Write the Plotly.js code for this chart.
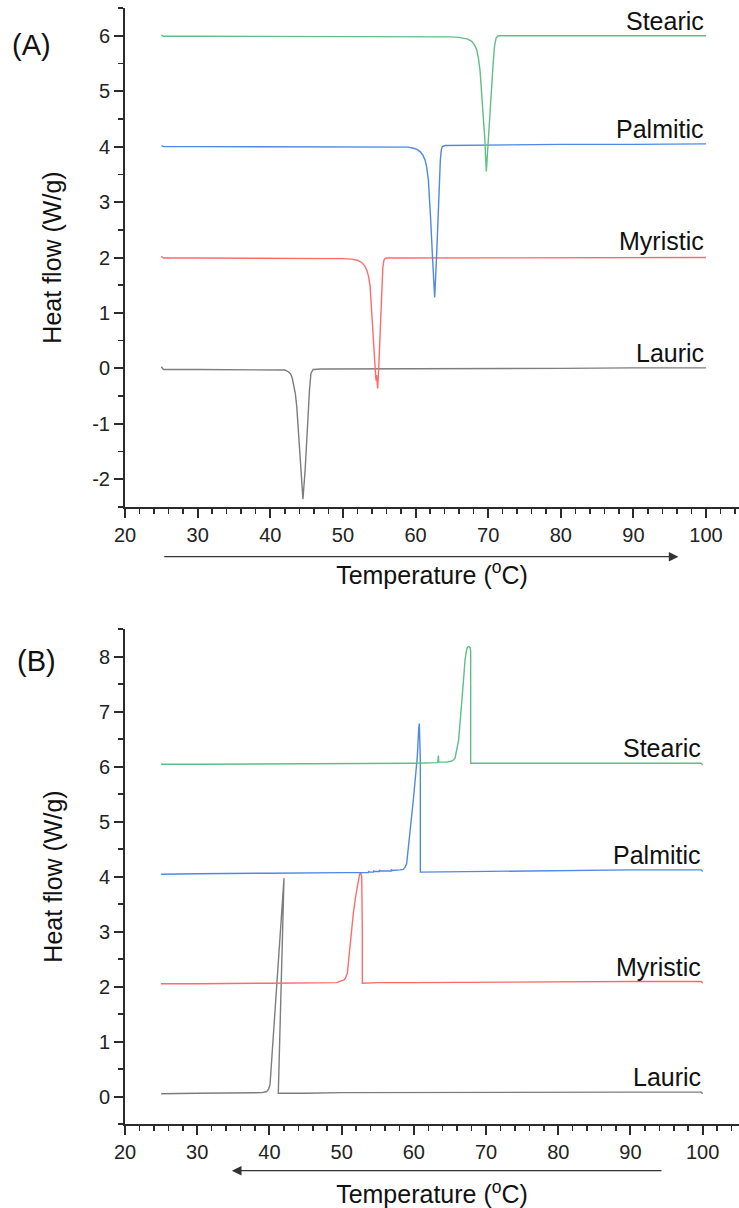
<!DOCTYPE html>
<html>
<head>
<meta charset="utf-8">
<script src="https://cdn.plot.ly/plotly-3.0.1.min.js"></script>
<style>
  html, body { margin: 0; padding: 0; background: #ffffff; }
  #chart { width: 739px; height: 1208px; }
</style>
</head>
<body>
<div id="chart"></div>
<script>
// ---------- Panel (A): heating scan (melting) ----------
const tA_lauric = [25, 25.3, 30, 35, 40, 41.5, 42.0, 42.5, 42.8, 43.0, 43.2, 43.45, 43.65, 43.95, 44.25, 44.5, 44.8, 45.1, 45.4, 45.6, 45.9, 47, 50, 60, 70, 80, 90, 100];
const hA_lauric = [0.03, -0.02, -0.02, -0.02, -0.02, -0.03, -0.03, -0.06, -0.1, -0.16, -0.27, -0.45, -0.69, -1.29, -1.9, -2.36, -1.84, -1.05, -0.39, -0.09, -0.02, -0.01, -0.01, 0.0, 0.0, 0.0, 0.01, 0.01];

const tA_myristic = [25, 25.3, 30, 40, 48, 50, 51.2, 52.0, 52.6, 53.0, 53.3, 53.55, 53.75, 53.9, 54.05, 54.24, 54.4, 54.52, 54.58, 54.64, 54.72, 54.79, 54.95, 55.11, 55.34, 55.5, 55.65, 55.8, 56.0, 60, 70, 80, 90, 100];
const hA_myristic = [2.02, 1.99, 1.99, 1.99, 1.98, 1.98, 1.97, 1.95, 1.91, 1.85, 1.77, 1.65, 1.48, 1.2, 0.8, 0.39, 0.1, -0.15, -0.22, -0.12, -0.28, -0.36, 0.05, 0.51, 1.41, 1.82, 1.95, 1.98, 1.99, 1.99, 1.99, 2.0, 2.0, 2.0];

const tA_palmitic = [25, 25.3, 30, 40, 50, 57, 59.0, 59.7, 60.2, 60.62, 61.0, 61.31, 61.55, 61.77, 61.95, 62.09, 62.36, 62.64, 62.92, 63.19, 63.42, 63.55, 63.7, 64.06, 70, 80, 90, 100];
const hA_palmitic = [4.02, 4.0, 4.0, 4.0, 4.0, 4.0, 3.99, 3.97, 3.95, 3.91, 3.85, 3.76, 3.62, 3.40, 3.05, 2.68, 1.95, 1.28, 2.08, 3.04, 3.76, 3.94, 4.0, 4.02, 4.03, 4.04, 4.04, 4.05];

const tA_stearic = [25, 25.3, 30, 40, 50, 60, 64.75, 66.0, 66.59, 67.2, 67.73, 68.1, 68.42, 68.65, 68.88, 69.25, 69.52, 69.75, 70.03, 70.35, 70.72, 70.9, 71.1, 71.41, 80, 90, 100];
const hA_stearic = [6.01, 5.99, 5.99, 5.99, 5.99, 5.99, 5.98, 5.97, 5.96, 5.94, 5.9, 5.84, 5.75, 5.6, 5.38, 4.78, 4.18, 3.55, 4.18, 4.9, 5.56, 5.83, 5.96, 6.0, 6.0, 6.0, 6.0];

// ---------- Panel (B): cooling scan (crystallisation), listed in scan order 100 -> 25 ----------
const tB_lauric = [100, 99.8, 90, 80, 70, 60, 50, 45, 42, 41.23, 42.02, 40.08, 39.9, 39.62, 39.0, 35, 30, 25];
const hB_lauric = [0.05, 0.08, 0.08, 0.08, 0.07, 0.07, 0.07, 0.06, 0.06, 0.06, 3.97, 0.21, 0.14, 0.09, 0.07, 0.06, 0.06, 0.05];

const tB_myristic = [100, 99.8, 90, 80, 70, 60, 55, 53.0, 52.87, 52.87, 52.84, 52.78, 52.68, 52.55, 52.4, 52.17, 51.9, 51.62, 51.16, 50.79, 50.55, 50.33, 49.31, 45, 40, 30, 25];
const hB_myristic = [2.06, 2.09, 2.09, 2.08, 2.08, 2.07, 2.07, 2.06, 2.06, 3.0, 3.8, 4.0, 4.06, 4.06, 3.98, 3.82, 3.6, 3.33, 2.67, 2.24, 2.16, 2.12, 2.07, 2.06, 2.06, 2.05, 2.05];

const tB_palmitic = [100, 99.8, 90, 80, 70, 65, 61.0, 60.9, 60.9, 60.82, 60.76, 60.68, 60.48, 59.93, 59.38, 59.01, 58.8, 58.55, 58.08, 57, 56.9, 56.85, 56, 55.3, 55.25, 55.2, 54.5, 54.45, 54.4, 53.8, 53.75, 53.7, 50, 45, 40, 30, 25];
const hB_palmitic = [4.09, 4.12, 4.12, 4.11, 4.10, 4.09, 4.08, 4.08, 6.1, 6.7, 6.78, 6.7, 6.18, 5.39, 4.67, 4.24, 4.17, 4.13, 4.12, 4.11, 4.13, 4.1, 4.1, 4.1, 4.12, 4.09, 4.09, 4.11, 4.08, 4.08, 4.1, 4.07, 4.07, 4.06, 4.06, 4.05, 4.04];

const tB_stearic = [100, 99.8, 90, 80, 70, 68.0, 67.87, 67.87, 67.8, 67.64, 67.45, 67.32, 67.2, 67.09, 66.85, 66.53, 66.35, 66.3, 66.21, 65.93, 65.70, 65.4, 65.01, 64.5, 63.45, 63.4, 63.35, 63.3, 60, 50, 40, 30, 25];
const hB_stearic = [6.03, 6.06, 6.06, 6.06, 6.06, 6.06, 6.06, 8.09, 8.16, 8.18, 8.17, 8.13, 8.06, 7.94, 7.52, 6.91, 6.6, 6.62, 6.49, 6.30, 6.15, 6.11, 6.09, 6.08, 6.08, 6.2, 6.08, 6.07, 6.06, 6.05, 6.05, 6.04, 6.04];

// ---------- Labels and ticks ----------
const acidNames = ["Lauric", "Myristic", "Palmitic", "Stearic"];
const acidColors = ["#7d7d7d", "#ff6b6b", "#4f88e6", "#5fbf87"];
const labelYA = [0.27, 2.29, 4.31, 6.27];
const labelYB = [0.36, 2.36, 4.40, 6.34];
const xTickVals = [20, 30, 40, 50, 60, 70, 80, 90, 100];
const xTickText = ["20", "30", "40", "50", "60", "70", "80", "90", "100"];
const yTickValsA = [-2, -1, 0, 1, 2, 3, 4, 5, 6];
const yTickTextA = ["-2", "-1", "0", "1", "2", "3", "4", "5", "6"];
const yTickValsB = [0, 1, 2, 3, 4, 5, 6, 7, 8];
const yTickTextB = ["0", "1", "2", "3", "4", "5", "6", "7", "8"];
const panelLabels = ["(A)", "(B)"];
const xTitle = "Temperature (<sup>o</sup>C)";
const yTitle = "Heat flow (W/g)";
// scan-direction arrows: [tail temperature, head temperature]
const arrowA = [25.2, 96.2];
const arrowB = [94.5, 34.8];

const seriesA = [[tA_lauric, hA_lauric], [tA_myristic, hA_myristic], [tA_palmitic, hA_palmitic], [tA_stearic, hA_stearic]];
const seriesB = [[tB_lauric, hB_lauric], [tB_myristic, hB_myristic], [tB_palmitic, hB_palmitic], [tB_stearic, hB_stearic]];

const FONT = "Liberation Sans, Arial, Helvetica, sans-serif";
const AX = "#2b2b2b";

const traces = [];
seriesA.forEach((s, i) => traces.push({
  x: s[0], y: s[1], xaxis: "x", yaxis: "y", type: "scatter", mode: "lines",
  name: acidNames[i] + " (A)", line: {color: acidColors[i], width: 1.4}, showlegend: false, hoverinfo: "skip"
}));
seriesB.forEach((s, i) => traces.push({
  x: s[0], y: s[1], xaxis: "x2", yaxis: "y2", type: "scatter", mode: "lines",
  name: acidNames[i] + " (B)", line: {color: acidColors[i], width: 1.4}, showlegend: false, hoverinfo: "skip"
}));

function xAxis(anchor, range, standoff) {
  return {
    anchor: anchor, domain: [125 / 739, 1], range: range,
    showline: true, linecolor: AX, linewidth: 2, showgrid: false, zeroline: false,
    ticks: "outside", ticklen: 9, tickwidth: 2, tickcolor: AX,
    tickmode: "array", tickvals: xTickVals, ticktext: xTickText,
    tickfont: {family: FONT, size: 20, color: "#222"},
    minor: {ticks: "outside", dtick: 2, tick0: 20, ticklen: 5, tickwidth: 1.5, tickcolor: AX, showgrid: false},
    title: {text: xTitle, font: {family: FONT, size: 25, color: "#111"}, standoff: standoff}
  };
}
function yAxis(anchor, domain, range, vals, texts, standoff) {
  return {
    anchor: anchor, domain: domain, range: range,
    showline: true, linecolor: AX, linewidth: 2, showgrid: false, zeroline: false,
    ticks: "outside", ticklen: 9, tickwidth: 2, tickcolor: AX,
    tickmode: "array", tickvals: vals, ticktext: texts,
    tickfont: {family: FONT, size: 20, color: "#222"},
    minor: {ticks: "outside", dtick: 0.5, tick0: 0, ticklen: 5, tickwidth: 1.5, tickcolor: AX, showgrid: false},
    title: {text: yTitle, font: {family: FONT, size: 25, color: "#111"}, standoff: standoff}
  };
}

const annotations = [];
acidNames.forEach((n, i) => {
  annotations.push({xref: "x", yref: "y", x: 100, y: labelYA[i], text: n, showarrow: false,
    xanchor: "right", yanchor: "middle", font: {family: FONT, size: 25, color: "#111"}});
  annotations.push({xref: "x2", yref: "y2", x: 100, y: labelYB[i], text: n, showarrow: false,
    xanchor: "right", yanchor: "middle", font: {family: FONT, size: 25, color: "#111"}});
});
// direction arrows (heating -> right, cooling -> left), drawn just below each x axis
annotations.push({xref: "x", yref: "paper", x: arrowA[1], y: 1 - 556.7 / 1208, axref: "x", ax: arrowA[0], ayref: "pixel", ay: 0,
  text: "", showarrow: true, arrowhead: 2, arrowsize: 1.6, arrowwidth: 1.2, arrowcolor: "#333"});
annotations.push({xref: "x2", yref: "paper", x: arrowB[1], y: 1 - 1170.7 / 1208, axref: "x2", ax: arrowB[0], ayref: "pixel", ay: 0,
  text: "", showarrow: true, arrowhead: 2, arrowsize: 1.6, arrowwidth: 1.2, arrowcolor: "#333"});
// panel letters
annotations.push({xref: "paper", yref: "paper", x: 31 / 739, y: 1 - 45 / 1208, text: panelLabels[0], showarrow: false,
  xanchor: "center", yanchor: "middle", font: {family: FONT, size: 29, color: "#111"}});
annotations.push({xref: "paper", yref: "paper", x: 36 / 739, y: 1 - 661 / 1208, text: panelLabels[1], showarrow: false,
  xanchor: "center", yanchor: "middle", font: {family: FONT, size: 29, color: "#111"}});

const layout = {
  width: 739, height: 1208,
  margin: {l: 0, r: 0, t: 0, b: 0, pad: 0},
  paper_bgcolor: "#ffffff", plot_bgcolor: "#ffffff",
  showlegend: false,
  font: {family: FONT, color: "#222"},
  xaxis: xAxis("y", [20, 104.54], 21),
  yaxis: yAxis("x", [1 - 507 / 1208, 1 - 8 / 1208], [-2.5, 6.5], yTickValsA, yTickTextA, 23),
  xaxis2: xAxis("y2", [20, 105.03], 24),
  yaxis2: yAxis("x2", [1 - 1124 / 1208, 1 - 629 / 1208], [-0.5, 8.5], yTickValsB, yTickTextB, 29),
  annotations: annotations
};

Plotly.newPlot("chart", traces, layout, {staticPlot: true, displayModeBar: false});
</script>
</body>
</html>
